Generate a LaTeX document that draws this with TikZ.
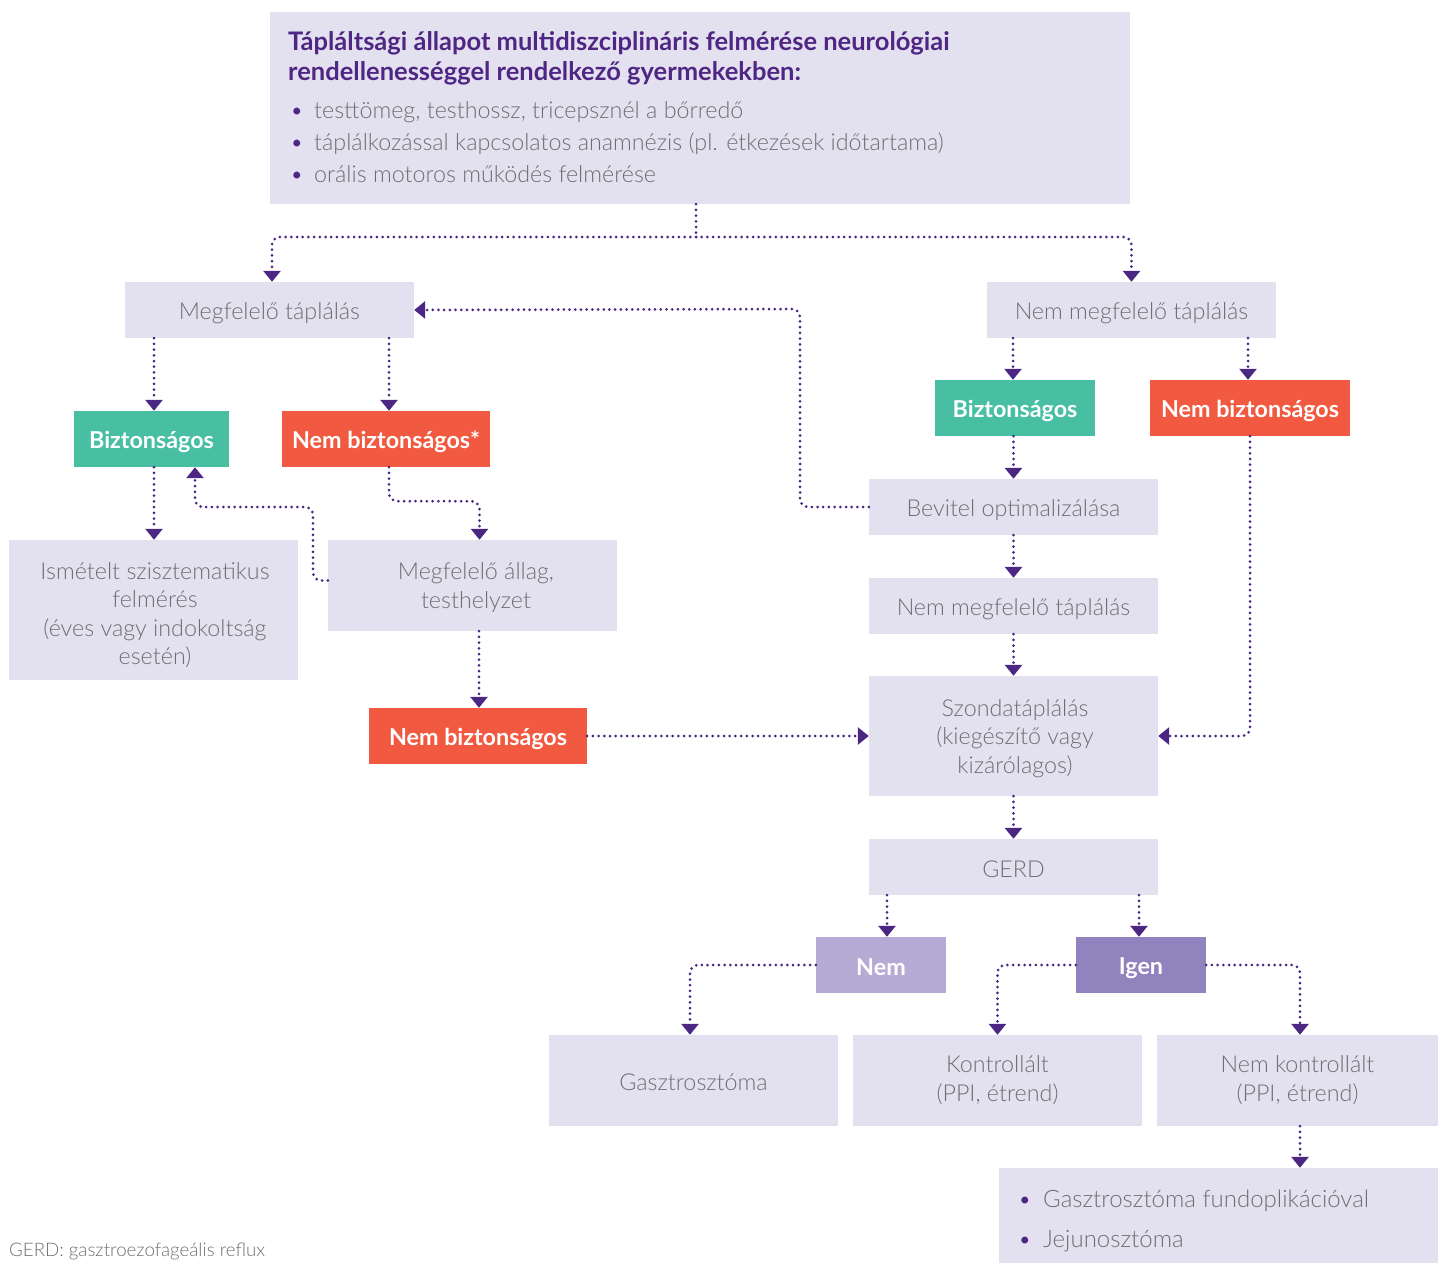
\documentclass[tikz,border=0pt]{standalone}
\usepackage{fontspec}
\setmainfont{Lato}
\newfontfamily\lightf{Lato Light}
\usetikzlibrary{arrows.meta}
\definecolor{boxbg}{HTML}{E3E1F0}
\definecolor{graytxt}{HTML}{6D6E71}
\definecolor{titlep}{HTML}{4F2683}
\definecolor{arrowc}{HTML}{4B2682}
\definecolor{greenc}{HTML}{48BFA3}
\definecolor{redc}{HTML}{F15A40}
\definecolor{nemc}{HTML}{B6ABD4}
\definecolor{igenc}{HTML}{9184BE}
\newcommand{\mystrut}{\rule[-4pt]{0pt}{28pt}}
\begin{document}
\begin{tikzpicture}[x=1pt,y=-1pt,
  gbox/.style={fill=boxbg, text=graytxt, font=\lightf\fontsize{23.3}{28.5}\selectfont, align=center, inner sep=0pt,
    execute at begin node=\mystrut, execute at end node=\mystrut},
  plainbox/.style={fill=boxbg, inner sep=0pt},
  mtext/.style={text=graytxt, font=\lightf\fontsize{23.3}{28.5}\selectfont, align=center, inner sep=0pt},
  cbox/.style={text=white, font=\bfseries\fontsize{23.3}{26}\selectfont, inner sep=0pt,
    execute at begin node=\mystrut, execute at end node=\mystrut},
  gtext/.style={text=graytxt, font=\lightf\fontsize{23.3}{26}\selectfont, inner sep=0pt, anchor=base west},
  ttext/.style={anchor=base west, inner sep=0pt, text=titlep, font=\bfseries\fontsize{25.5}{30}\selectfont},
  dotl/.style={draw=arrowc, line width=3pt, dash pattern=on 0pt off 5.7pt, line cap=round, rounded corners=8pt},
  conn/.style={dotl, -{Triangle[width=17pt,length=11pt]}}]
\useasboundingbox (0,0) rectangle (1438,1263);
% top box
\node[plainbox, minimum width=860, minimum height=192] (top) at (700,108) {};
\node[ttext] (t1) at (288,51) {Tápláltsági állapot multidiszciplináris felmérése neurológiai};
\node[ttext] (t2) at (288,81) {rendellenességgel rendelkező gyermekekben:};
\node[gtext, text=titlep] (d1) at (290,118) {•};
\node[gtext] (b1) at (314,118) {testtömeg, testhossz, tricepsznél a bőrredő};
\node[gtext, text=titlep] (d2) at (290,150) {•};
\node[gtext] (b2) at (314,150) {táplálkozással kapcsolatos anamnézis (pl. étkezések időtartama)};
\node[gtext, text=titlep] (d3) at (290,182) {•};
\node[gtext] (b3) at (314,182) {orális motoros működés felmérése};
% boxes
\node[gbox, minimum width=289, minimum height=56] (mt) at (269.5,310) {Megfelelő táplálás};
\node[gbox, minimum width=289, minimum height=56] (nmt) at (1131.5,310) {Nem megfelelő táplálás};
\node[cbox, fill=greenc, minimum width=155, minimum height=56] (biz1) at (151.5,439) {Biztonságos};
\node[cbox, fill=redc, minimum width=208, minimum height=56] (nb1) at (386,439) {Nem biztonságos*};
\node[plainbox, minimum width=289, minimum height=140] (ism) at (153.5,610) {};
\node[mtext] (ism-t) at (155,615) {Ismételt szisztematikus\\felmérés\\(éves vagy indokoltság\\esetén)};
\node[plainbox, minimum width=289, minimum height=91] (allag) at (472.5,585.5) {};
\node[mtext] (allag-t) at (476,587.5) {Megfelelő állag,\\testhelyzet};
\node[cbox, fill=redc, minimum width=218, minimum height=56] (nb2) at (478,736) {Nem biztonságos};
\node[cbox, fill=greenc, minimum width=160, minimum height=56] (biz2) at (1015,408) {Biztonságos};
\node[cbox, fill=redc, minimum width=200, minimum height=56] (nb3) at (1250,408) {Nem biztonságos};
\node[gbox, minimum width=289, minimum height=56] (bev) at (1013.5,507) {Bevitel optimalizálása};
\node[gbox, minimum width=289, minimum height=56] (nmt2) at (1013.5,606) {Nem megfelelő táplálás};
\node[plainbox, minimum width=289, minimum height=120] (szonda) at (1013.5,736) {};
\node[mtext] (szonda-t) at (1015,738.5) {Szondatáplálás\\(kiegészítő vagy\\kizárólagos)};
\node[gbox, minimum width=289, minimum height=56] (gerd) at (1013.5,867) {GERD};
\node[cbox, fill=nemc, minimum width=130, minimum height=56] (nem) at (881,965) {Nem};
\node[cbox, fill=igenc, minimum width=130, minimum height=56] (igen) at (1141,965) {Igen};
\node[gbox, minimum width=289, minimum height=91] (gaszt) at (693.5,1080.5) {Gasztrosztóma};
\node[gbox, minimum width=289, minimum height=91] (kontr) at (997.5,1080.5) {Kontrollált\\(PPI, étrend)};
\node[gbox, minimum width=281, minimum height=91] (nemk) at (1297.5,1080.5) {Nem kontrollált\\(PPI, étrend)};
\node[plainbox, minimum width=439, minimum height=95] (bul) at (1218.5,1215.5) {};
\node[gtext, text=titlep] (d4) at (1018,1207) {•};
\node[gtext, font=\lightf\fontsize{24}{26}\selectfont] (b4) at (1043,1207) {Gasztrosztóma fundoplikációval};
\node[gtext, text=titlep] (d5) at (1018,1247) {•};
\node[gtext, font=\lightf\fontsize{24}{26}\selectfont] (b5) at (1043,1247) {Jejunosztóma};
\node[anchor=base west, inner sep=0pt, text=graytxt, font=\lightf\fontsize{18.7}{22}\selectfont] (foot) at (9,1256) {GERD: gasztroezofageális reflux};
% connectors
\coordinate (split) at (696,237);
\draw[dotl] (split |- top.south) -- (split);
\draw[conn] (split) -| ([xshift=2.5]mt.north);
\draw[conn] (split) -| (nmt.north);
\draw[conn] (mt.south -| 154,0) -- ([xshift=2.5]biz1.north);
\draw[conn] (mt.south -| 389,0) -- ([xshift=3]nb1.north);
\draw[conn] ([xshift=2.5]biz1.south) -- ([xshift=2.5]biz1.south |- ism.north);
\coordinate (a1) at (313,507);
\draw[conn] ([yshift=5]allag.west) -| (a1) -| ([xshift=43.5]biz1.south);
\draw[conn] ([xshift=3]nb1.south) -- ++(0,34) -| ([xshift=7]allag.north);
\draw[conn] ([xshift=6.5]allag.south) -- ([xshift=6.5]allag.south |- nb2.north);
\draw[conn] (nb2.east) -- (szonda.west);
\coordinate (c1) at (800,309);
\draw[conn] (bev.west) -| (c1) -- (mt.east);
\draw[conn] (nmt.south -| 1013,0) -- ([xshift=-2]biz2.north);
\draw[conn] (nmt.south -| 1248,0) -- ([xshift=-2]nb3.north);
\draw[conn] (biz2.south -| bev.north) -- (bev.north);
\draw[conn] (bev.south) -- (nmt2.north);
\draw[conn] (nmt2.south) -- (szonda.north);
\draw[conn] (nb3.south) |- (szonda.east);
\draw[conn] (szonda.south) -- (gerd.north);
\draw[conn] (gerd.south -| 887,0) -- ([xshift=6]nem.north);
\draw[conn] (gerd.south -| 1139,0) -- ([xshift=-2]igen.north);
\draw[conn] (nem.west) -| ([xshift=-3.5]gaszt.north);
\draw[conn] (igen.west) -| (kontr.north);
\draw[conn] (igen.east) -| ([xshift=2.5]nemk.north);
\draw[conn] ([xshift=2.5]nemk.south) -- ([xshift=2.5]nemk.south |- bul.north);
\end{tikzpicture}
\end{document}
